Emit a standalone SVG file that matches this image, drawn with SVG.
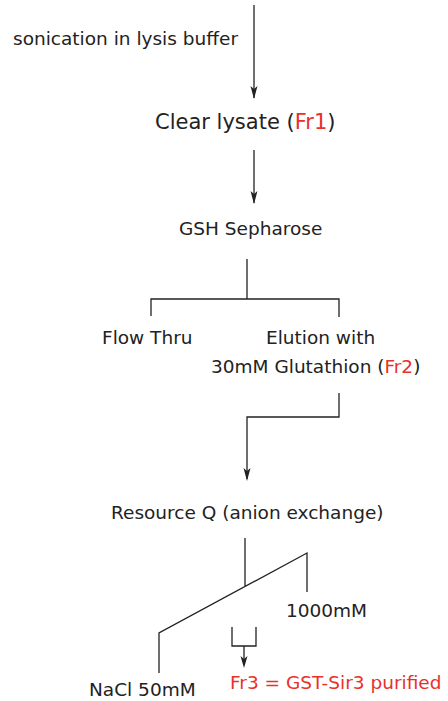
<svg xmlns="http://www.w3.org/2000/svg" width="448" height="701" viewBox="0 0 448 701">
<style>
text{font-family:"DejaVu Sans",sans-serif;font-size:18.5px;fill:#222}
.red{fill:#e8312a}
.big{font-size:21px}
.ln{fill:none;stroke:#222;stroke-width:1.3}
</style>
<defs>
<marker id="ah" markerWidth="8" markerHeight="12" refX="3.5" refY="11" orient="auto-start-reverse" markerUnits="userSpaceOnUse" viewBox="0 0 7 12">
<path d="M0,0 L3.5,2 L7,0 L3.5,11 Z" fill="#222" transform="rotate(0)"/>
</marker>
</defs>
<rect width="448" height="701" fill="#fff"/>
<g id="connectors">
<line class="ln" x1="254" y1="5" x2="254" y2="98"/>
<path d="M250.5,86 L254,89 L257.5,86 L254,99 Z" fill="#222"/>
<line class="ln" x1="254" y1="150" x2="254" y2="203"/>
<path d="M250.5,191 L254,194 L257.5,191 L254,204 Z" fill="#222"/>
<path class="ln" d="M247,259 V299 M151,316 V299 H339 V317"/>
<path class="ln" d="M339,393 V417 H247 V479"/>
<path d="M243.5,468 L247,471 L250.5,468 L247,481 Z" fill="#222"/>
<path class="ln" d="M245,538 V587 M159,673 V633 L307,553 V592"/>
<path class="ln" d="M232,627 V646 H256 V627 M244,646 V665"/>
<path d="M240.5,656 L244,659 L247.5,656 L244,668 Z" fill="#222"/>
</g>
<g id="n-sonication"><text x="13" y="45">sonication in lysis buffer</text></g>
<g id="n-lysate"><text class="big" x="155" y="129">Clear lysate (<tspan class="red">Fr1</tspan>)</text></g>
<g id="n-gsh"><text x="179" y="235">GSH Sepharose</text></g>
<g id="n-flow"><text x="102" y="344">Flow Thru</text></g>
<g id="n-elution"><text x="266" y="344">Elution with</text><text x="211" y="373">30mM Glutathion (<tspan class="red">Fr2</tspan>)</text></g>
<g id="n-resource"><text x="111" y="519">Resource Q (anion exchange)</text></g>
<g id="n-1000"><text x="286" y="617">1000mM</text></g>
<g id="n-nacl"><text x="89" y="696">NaCl 50mM</text></g>
<g id="n-fr3"><text class="red" x="230" y="689">Fr3 = GST-Sir3 purified</text></g>
</svg>
